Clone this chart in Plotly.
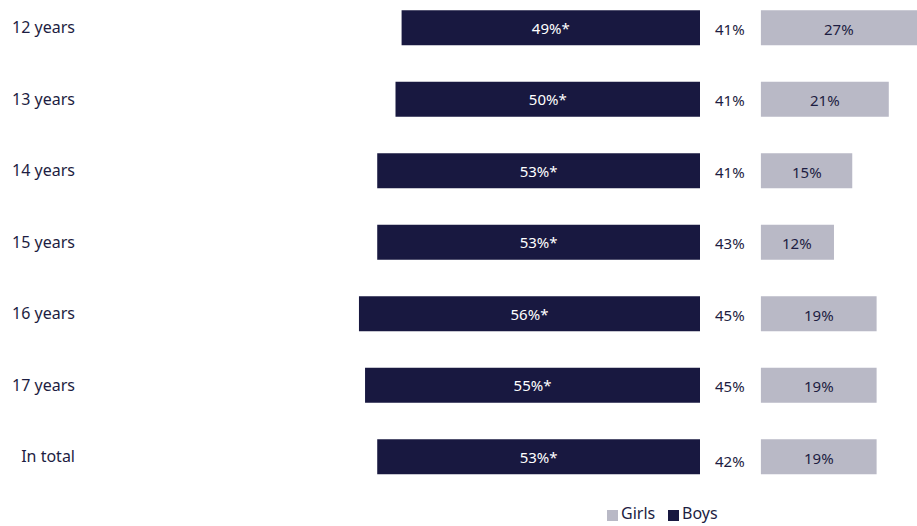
import plotly.graph_objects as go

# Share of each age group, by sex
categories = ["12 years", "13 years", "14 years", "15 years", "16 years", "17 years", "In total"]
boys = [49, 50, 53, 53, 56, 55, 53]
girls = [27, 21, 15, 12, 19, 19, 19]
middle = [41, 41, 41, 43, 45, 45, 42]
boys_labels = ["49%*", "50%*", "53%*", "53%*", "56%*", "55%*", "53%*"]
girls_labels = ["27%", "21%", "15%", "12%", "19%", "19%", "19%"]
middle_labels = ["41%", "41%", "41%", "43%", "45%", "45%", "42%"]

NAVY = "#181840"
LILAC = "#b9b9c6"
TEXT = "#1d1d42"
FONT = "Noto Sans"

# Horizontal geometry: plot area starts at PLOT_LEFT px, zero line at ZERO_PX
W, H = 917, 526
PLOT_LEFT = 80
PLOT_BOTTOM_MARGIN = 50
ZERO_PX = 700
PX_PER_PCT = 6.09
X_RANGE = [(PLOT_LEFT - ZERO_PX) / PX_PER_PCT, (W - ZERO_PX) / PX_PER_PCT]

GIRLS_BASE = 10.0   # girls bars start right of the centre column
MID_X = 5.0         # centre column for the middle figures

ypos = list(range(len(categories)))
plot_w = W - PLOT_LEFT
plot_h = H - PLOT_BOTTOM_MARGIN


def px_x(p):
    return (p - PLOT_LEFT) / plot_w


def px_y(q):
    return (plot_h - q) / plot_h


fig = go.Figure()

fig.add_trace(go.Bar(
    name="Girls", y=ypos, x=girls, base=GIRLS_BASE, orientation="h",
    marker=dict(color=LILAC, line=dict(width=0)), width=0.49,
    hoverinfo="skip", showlegend=False,
))
fig.add_trace(go.Bar(
    name="Boys", y=ypos, x=[-v for v in boys], base=0, orientation="h",
    marker=dict(color=NAVY, line=dict(width=0)), width=0.49,
    text=boys_labels, textposition="inside", insidetextanchor="middle",
    textfont=dict(color="white", size=15, family=FONT),
    hoverinfo="skip", showlegend=False,
))

annotations = []
# Girls labels, centred on the visible part of each bar
for i, (g, lab) in enumerate(zip(girls, girls_labels)):
    cx = (GIRLS_BASE + min(GIRLS_BASE + g, X_RANGE[1])) / 2
    annotations.append(dict(
        x=cx, y=i, xref="x", yref="y", text=lab, showarrow=False,
        font=dict(size=15, color=TEXT, family=FONT), yshift=-1,
    ))
# Middle column figures
for i, lab in enumerate(middle_labels):
    annotations.append(dict(
        x=MID_X, y=i, xref="x", yref="y", text=lab, showarrow=False,
        font=dict(size=15, color=TEXT, family=FONT),
        yshift=-4 if i == len(middle_labels) - 1 else -1,
    ))

# Legend: small squares with labels underneath the chart
legend_items = [("Girls", LILAC, 607), ("Boys", NAVY, 668)]
shapes = []
for name, color, left in legend_items:
    shapes.append(dict(
        type="rect", xref="paper", yref="paper",
        xsizemode="pixel", ysizemode="pixel",
        xanchor=px_x(left), yanchor=px_y(521),
        x0=0, x1=11, y0=0, y1=11,
        fillcolor=color, line=dict(width=0),
    ))
    annotations.append(dict(
        x=px_x(left + 13), y=px_y(525), xref="paper", yref="paper",
        xanchor="left", yanchor="bottom", text=name, showarrow=False,
        font=dict(size=16, color=TEXT, family=FONT), borderpad=0,
    ))

fig.update_layout(
    width=W, height=H,
    margin=dict(l=PLOT_LEFT, r=0, t=0, b=PLOT_BOTTOM_MARGIN),
    paper_bgcolor="white", plot_bgcolor="white",
    barmode="overlay",
    font=dict(family=FONT, color=TEXT, size=15),
    showlegend=False,
    annotations=annotations,
    shapes=shapes,
    xaxis=dict(range=X_RANGE, visible=False, fixedrange=True),
    yaxis=dict(
        range=[6.269, -0.389], tickvals=ypos, ticktext=categories,
        showgrid=False, zeroline=False, showline=False, ticks="",
        tickfont=dict(size=16, color=TEXT, family=FONT),
        ticklabelstandoff=4, automargin=False,
    ),
)

fig.write_html("out.html")
